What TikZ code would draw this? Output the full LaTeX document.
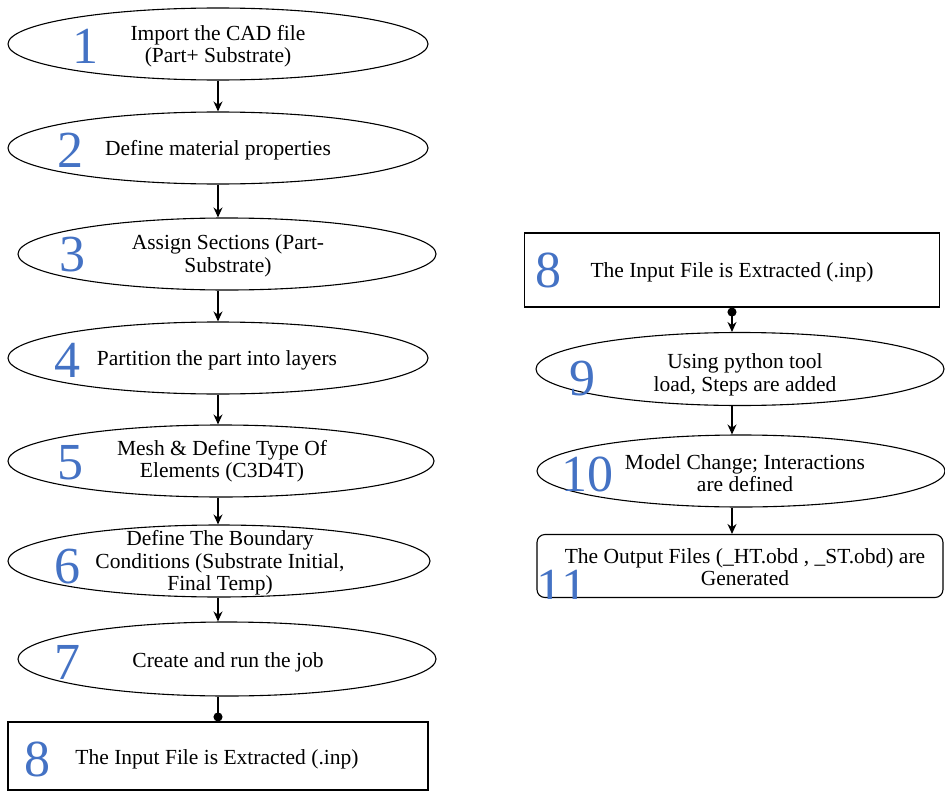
\documentclass[tikz,border=0pt]{standalone}
\usepackage{fontspec}
\setmainfont{Liberation Serif}
\usetikzlibrary{shapes.geometric,arrows.meta}
\definecolor{numblue}{RGB}{68,114,196}
\tikzset{
  oval/.style={draw=black, line width=1.1pt, ellipse, inner sep=0pt, fill=white},
  box/.style={draw=black, line width=1.1pt, rectangle, inner sep=0pt, fill=white},
  rbox/.style={draw=black, line width=1.1pt, rectangle, rounded corners=8pt, inner sep=0pt},
  txt/.style={font=\fontsize{21.5}{22.5}\selectfont, align=center, inner sep=0pt},
  num/.style={font=\fontsize{52}{52}\selectfont, text=numblue, inner sep=0pt},
  arr/.style={line width=1.3pt, -{Stealth[length=10pt,width=9pt]}},
  dotline/.style={line width=1.3pt, -{Circle[length=9pt]}},
  dotarr/.style={line width=1.3pt, {Circle[length=9pt]}-{Stealth[length=10pt,width=9pt]}}
}
\begin{document}
\begin{tikzpicture}[x=1pt,y=-1pt]
\useasboundingbox (0,0) rectangle (945,792);
% left column shapes
\node[oval, minimum width=420pt, minimum height=72pt] (e1) at (218,44) {};
\node[oval, minimum width=420pt, minimum height=72pt] (e2) at (218,148) {};
\node[oval, minimum width=418pt, minimum height=72pt] (e3) at (227,254) {};
\node[oval, minimum width=420pt, minimum height=72pt] (e4) at (218,358) {};
\node[oval, minimum width=426pt, minimum height=72pt] (e5) at (221,461) {};
\node[oval, minimum width=422pt, minimum height=72pt] (e6) at (219,561) {};
\node[oval, minimum width=418pt, minimum height=74pt] (e7) at (227,659) {};
\node[box, minimum width=420pt, minimum height=68pt] (b8) at (218,756) {};
% right column shapes
\node[box, minimum width=415pt, minimum height=74pt] (r8) at (732,270) {};
\node[oval, minimum width=408pt, minimum height=73pt] (e9) at (740,369) {};
\node[oval, minimum width=408pt, minimum height=72pt] (e10) at (741,471) {};
\node[rbox, minimum width=406pt, minimum height=63pt] (b11) at (740,566) {};
% numbers
\node[num] (n1) at (85,46) {1};
\node[num] (n2) at (70,150) {2};
\node[num] (n3) at (72,255) {3};
\node[num] (n4) at (67,360) {4};
\node[num] (n5) at (70,463) {5};
\node[num] (n6) at (67,567) {6};
\node[num] (n7) at (67,662) {7};
\node[num] (n8) at (37,759) {8};
\node[num] (m8) at (548,270) {8};
\node[num] (m9) at (582,379) {9};
\node[num] (m10) at (587,474) {10};
\begin{scope}
\clip (b11.north west) rectangle (b11.south east);
\node[num] (m11) at (562,587) {11};
\end{scope}
% texts
\node[txt] (t1) at (218,46) {Import the CAD file\\(Part+ Substrate)};
\node[txt] (t2) at (218,150) {Define material properties};
\node[txt] (t3) at (228,256) {Assign Sections (Part-\\Substrate)};
\node[txt] (t4) at (217,360) {Partition the part into layers};
\node[txt] (t5) at (222,461) {Mesh \& Define Type Of\\Elements (C3D4T)};
\node[txt] (t6) at (220,563) {Define The Boundary\\Conditions (Substrate Initial,\\Final Temp)};
\node[txt] (t7) at (228,662) {Create and run the job};
\node[txt] (t8) at (217,759) {The Input File is Extracted (.inp)};
\node[txt] (s8) at (732,272) {The Input File is Extracted (.inp)};
\node[txt] (s9) at (745,375) {Using python tool\\load, Steps are added};
\node[txt] (s10) at (745,473) {Model Change; Interactions\\are defined};
\node[txt] (s11) at (745,567) {The Output Files (\_HT.obd , \_ST.obd) are\\Generated};
% connectors
\draw[arr] (e1.south) -- (e2.north);
\draw[arr] (e2.south) -- (e2.south |- e3.north);
\draw[arr] (e4.north |- e3.south) -- (e4.north);
\draw[arr] (e4.south) -- (e4.south |- e5.north);
\draw[arr] (e4.south |- e5.south) -- (e4.south |- e6.north);
\draw[arr] (e4.south |- e6.south) -- (e4.south |- e7.north);
\draw[dotline] (e4.south |- e7.south) -- (b8.north);
\draw[dotarr] (r8.south) -- (r8.south |- e9.north);
\draw[arr] (r8.south |- e9.south) -- (r8.south |- e10.north);
\draw[arr] (r8.south |- e10.south) -- (r8.south |- b11.north);
\end{tikzpicture}
\end{document}
